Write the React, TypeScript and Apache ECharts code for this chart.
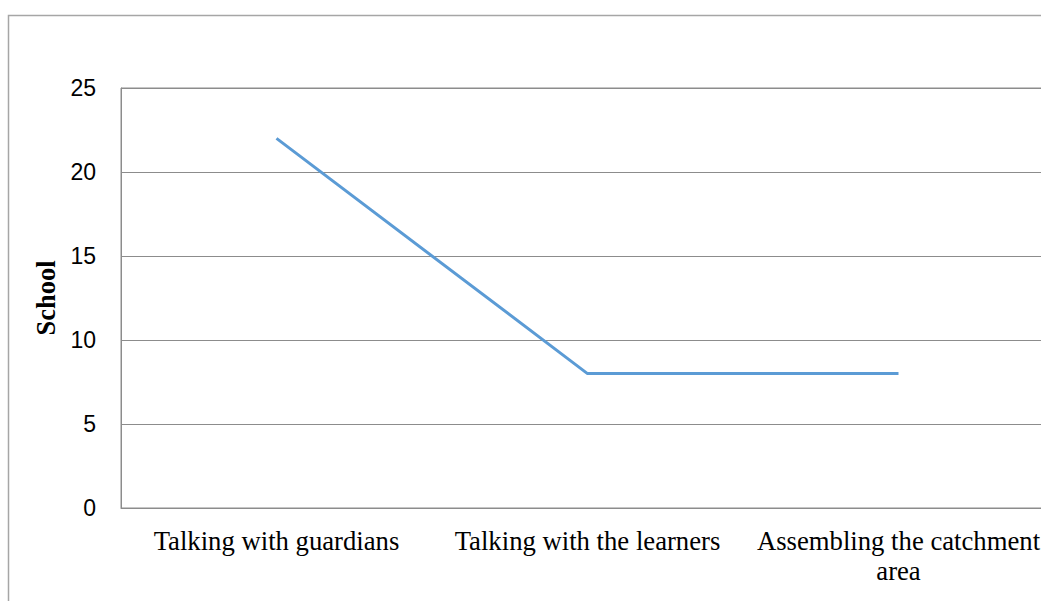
import React, { useEffect, useRef } from "react";
import * as echarts from "echarts";

const categories = [
  "Talking with guardians",
  "Talking with the learners",
  "Assembling the catchment\narea",
];
const schoolValues = [22, 8, 8];
const yTicks = { min: 0, max: 25, interval: 5 };
const yAxisTitle = "School";

export default function App() {
  const ref = useRef<HTMLDivElement>(null);
  useEffect(() => {
    if (!ref.current) return;
    const chart = echarts.init(ref.current, null, { renderer: "svg" });
    chart.setOption({
      animation: false,
      backgroundColor: "#ffffff",
      graphic: [
        {
          type: "rect",
          shape: { x: 8.5, y: 15.5, width: 1200, height: 800 },
          style: { fill: "none", stroke: "#a6a6a6", lineWidth: 1.5 },
          silent: true,
        },
      ],
      grid: {
        left: 121,
        top: 88,
        width: 933,
        height: 420,
        show: true,
        borderColor: "#8c8c8c",
        borderWidth: 1,
        containLabel: false,
        outerBoundsMode: "none",
      },
      xAxis: {
        type: "category",
        data: categories,
        boundaryGap: true,
        axisLine: { show: true, lineStyle: { color: "#8c8c8c", width: 1 } },
        axisTick: { show: false },
        axisLabel: {
          interval: 0,
          margin: 18,
          fontFamily: "'Liberation Serif', 'Times New Roman', serif",
          fontSize: 26.7,
          lineHeight: 30,
          color: "#000000",
          align: "center",
        },
      },
      yAxis: {
        type: "value",
        min: yTicks.min,
        max: yTicks.max,
        interval: yTicks.interval,
        name: yAxisTitle,
        nameLocation: "middle",
        nameGap: 62,
        nameRotate: 90,
        nameTextStyle: {
          fontFamily: "'Liberation Serif', 'Times New Roman', serif",
          fontWeight: "bold",
          fontSize: 26.5,
          color: "#000000",
        },
        axisLine: { show: true, lineStyle: { color: "#8c8c8c", width: 1 } },
        axisTick: { show: false },
        splitLine: { show: true, lineStyle: { color: "#8c8c8c", width: 1 } },
        axisLabel: {
          margin: 25,
          fontFamily: "'Liberation Sans', Arial, sans-serif",
          fontSize: 23,
          color: "#000000",
        },
      },
      series: [
        {
          type: "line",
          name: yAxisTitle,
          data: schoolValues,
          symbol: "none",
          lineStyle: { color: "#5B9BD5", width: 3 },
        },
      ],
    });
    return () => chart.dispose();
  }, []);
  return (
    <div
      ref={ref}
      style={{ position: "absolute", left: 0, top: 0, width: 1041, height: 601 }}
    />
  );
}
